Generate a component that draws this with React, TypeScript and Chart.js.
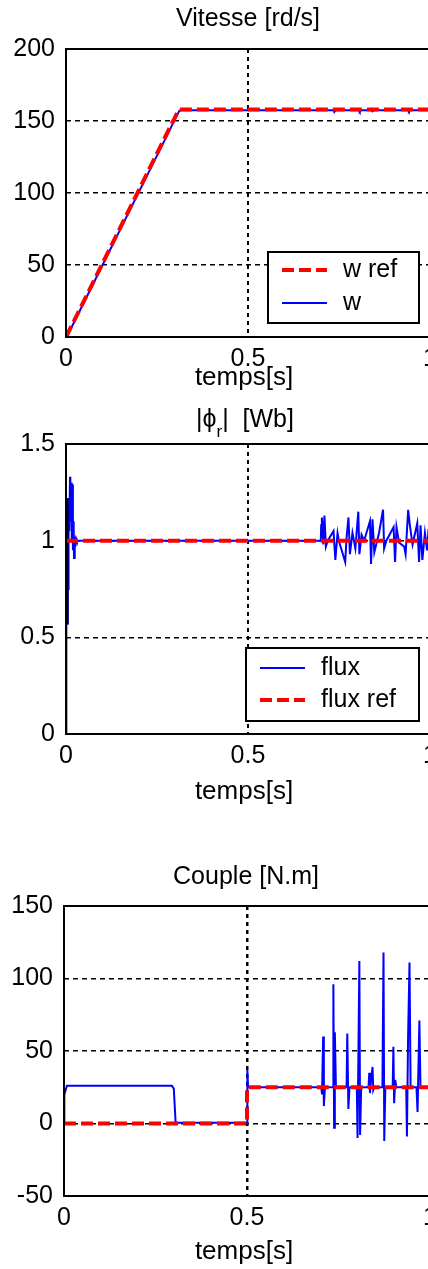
import React, { useEffect, useRef } from "react";
import { Chart, registerables } from "chart.js";

Chart.register(...registerables);

const FONT = '"Liberation Sans", Arial, Helvetica, sans-serif';
const BLUE = "#0000ff";
const RED = "#ff0000";
const CANVAS_W = 460;

// shared x axis
const xTicks = [0, 0.5, 1];
const xLabel = "temps[s]";

// Panel 1 — speed
const speedTicks = [0, 50, 100, 150, 200];
const wRefT = [0, 0.31, 1];
const wRefV = [0, 158, 158];
const wT = [0, 0.003, 0.311, 0.315, 0.735, 0.737, 0.74, 0.805, 0.807, 0.81, 0.84, 0.842, 0.845, 0.94, 0.942, 0.945, 1];
const wV = [0, 0.5, 157, 157.4, 157.4, 156.3, 157.4, 157.4, 156.5, 157.4, 157.4, 156.7, 157.4, 157.4, 156.6, 157.4, 157.4];

// Panel 2 — flux
const fluxTicks = [0, 0.5, 1, 1.5];
const fluxRefT = [0, 1];
const fluxRefV = [1, 1];
const fluxInitT = [0.0025, 0.0025];
const fluxInitV = [0.57, 1.22];
const fluxT = [
  0, 0.001, 0.003, 0.005, 0.006, 0.007, 0.009, 0.011, 0.012, 0.014, 0.016, 0.018, 0.019, 0.021, 0.022, 0.024, 0.026, 0.028, 0.03,
  0.7, 0.701, 0.703, 0.707, 0.71, 0.714, 0.719, 0.735, 0.74, 0.746, 0.751, 0.767, 0.771, 0.776, 0.78, 0.787, 0.795,
  0.803, 0.806, 0.812, 0.819, 0.835, 0.838, 0.842, 0.847, 0.86, 0.871, 0.874, 0.88, 0.9, 0.904, 0.908, 0.915,
  0.929, 0.933, 0.94, 0.944, 0.952, 0.965, 0.97, 0.974, 0.979, 0.986, 0.992, 0.996, 1,
];
const fluxV = [
  0, 0.57, 0.57, 1.22, 0.75, 1.22, 1.05, 1.33, 1.1, 1.3, 1.0, 1.29, 0.95, 1.1, 0.91, 1.02, 0.97, 1.01, 1.0,
  1.0, 1.08, 1.12, 0.98, 1.13, 0.97, 1.0, 1.05, 0.9, 1.04, 0.99, 0.89, 1.02, 1.12, 0.93, 1.04, 0.96,
  1.15, 0.93, 1.03, 1.0, 1.1, 0.88, 1.11, 0.94, 1.04, 1.16, 0.96, 1.0, 1.07, 0.89, 1.07, 0.99,
  0.97, 0.93, 1.16, 1.09, 0.98, 1.09, 0.89, 1.08, 0.9, 1.04, 0.95, 1.06, 1.0,
];

// Panel 3 — torque
const torqueTicks = [-50, 0, 50, 100, 150];
const torqueRefT = [0, 0.5, 0.5, 1];
const torqueRefV = [0, 0, 25, 25];
const torqueT = [
  0, 0.001, 0.008, 0.295, 0.3, 0.305, 0.5, 0.501, 0.503,
  0.703, 0.705, 0.708, 0.71, 0.713, 0.735, 0.736, 0.738, 0.74, 0.743,
  0.772, 0.774, 0.777, 0.78, 0.8, 0.802, 0.807, 0.809, 0.812,
  0.832, 0.834, 0.836, 0.839, 0.843, 0.845, 0.848, 0.87, 0.873, 0.875, 0.878,
  0.898, 0.9, 0.902, 0.905, 0.908, 0.935, 0.937, 0.94, 0.944, 0.947,
  0.963, 0.966, 0.971, 0.974, 1,
];
const torqueV = [
  0, 20, 26, 26, 24, 0.5, 0.5, 37, 25,
  25, 20, 60, 12, 25, 25, 96, -3, 63, 25,
  25, 62, 10, 25, 25, -10, 112, -8, 25,
  25, 35, 21, 30, 39, 23, 25, 25, 118, -12, 25,
  25, 53, 14, 30, 25, 25, -9, 58, 111, 25,
  25, 8, 71, 25, 25,
];

const pts = (t: number[], v: number[]) => t.map((x, i) => ({ x, y: v[i] }));

type LegendCfg = { x: number; y: number; w: number; h: number; rows: { ds: number; y: number }[]; sx0: number; sx1: number; tx: number };
type PanelCfg = {
  key: string;
  top: number;
  height: number;
  area: { top: number; bottom: number; left: number; right: number };
  yTicks: number[];
  datasets: any[];
  title: { text: string; sub?: string; after?: string; y: number; x: number };
  xLabelY: number;
  legend?: LegendCfg;
  vGridWidth: number;
};

const panels: PanelCfg[] = [
  {
    key: "speed",
    top: 0,
    height: 400,
    area: { top: 49, bottom: 337, left: 66, right: 430 },
    yTicks: speedTicks,
    datasets: [
      { label: "w ref", data: pts(wRefT, wRefV), borderColor: RED, borderWidth: 4, borderDash: [12, 5], order: 0 },
      { label: "w", data: pts(wT, wV), borderColor: BLUE, borderWidth: 2, borderDash: [], order: 1 },
    ],
    title: { text: "Vitesse [rd/s]", y: 19, x: 248 },
    xLabelY: 378,
    legend: { x: 268, y: 252, w: 151, h: 71, rows: [{ ds: 0, y: 270 }, { ds: 1, y: 303 }], sx0: 282, sx1: 327, tx: 343 },
    vGridWidth: 2,
  },
  {
    key: "flux",
    top: 400,
    height: 420,
    area: { top: 44, bottom: 334, left: 66, right: 430 },
    yTicks: fluxTicks,
    datasets: [
      { label: "flux", data: pts(fluxT, fluxV), borderColor: BLUE, borderWidth: 2, borderDash: [], order: 1 },
      { label: "flux ref", data: pts(fluxRefT, fluxRefV), borderColor: RED, borderWidth: 4, borderDash: [12, 5], order: 0 },
      { label: "", data: pts(fluxInitT, fluxInitV), borderColor: "#000", borderWidth: 3, borderDash: [], order: 0.5 },
    ],
    title: { text: "|ϕ", sub: "r", after: "|  [Wb]", y: 20, x: 245 },
    xLabelY: 392,
    legend: { x: 246, y: 248, w: 173, h: 73, rows: [{ ds: 0, y: 268 }, { ds: 1, y: 300 }], sx0: 260, sx1: 305, tx: 321 },
    vGridWidth: 2,
  },
  {
    key: "torque",
    top: 820,
    height: 449,
    area: { top: 86, bottom: 376, left: 64, right: 430 },
    yTicks: torqueTicks,
    datasets: [
      { label: "couple", data: pts(torqueT, torqueV), borderColor: BLUE, borderWidth: 2, borderDash: [], order: 1 },
      { label: "couple ref", data: pts(torqueRefT, torqueRefV), borderColor: RED, borderWidth: 4, borderDash: [12, 5], order: 0 },
    ],
    title: { text: "Couple [N.m]", y: 57, x: 246 },
    xLabelY: 432,
    vGridWidth: 2.5,
  },
];

function makeDecor(cfg: PanelCfg) {
  return {
    id: "decor_" + cfg.key,
    afterDatasetsDraw(chart: any) {
      const ctx: CanvasRenderingContext2D = chart.ctx;
      const a = chart.chartArea;
      ctx.save();
      // legend
      if (cfg.legend) {
        const L = cfg.legend;
        ctx.fillStyle = "#fff";
        ctx.fillRect(L.x, L.y, L.w, L.h);
        ctx.strokeStyle = "#000";
        ctx.lineWidth = 2;
        ctx.setLineDash([]);
        ctx.strokeRect(L.x, L.y, L.w, L.h);
        for (const r of L.rows) {
          const ds = chart.data.datasets[r.ds];
          ctx.strokeStyle = ds.borderColor;
          ctx.lineWidth = ds.borderWidth;
          ctx.setLineDash(ds.borderDash || []);
          ctx.beginPath();
          ctx.moveTo(L.sx0, r.y);
          ctx.lineTo(L.sx1, r.y);
          ctx.stroke();
          ctx.setLineDash([]);
          ctx.fillStyle = "#000";
          ctx.font = `25px ${FONT}`;
          ctx.textAlign = "left";
          ctx.textBaseline = "middle";
          ctx.fillText(ds.label, L.tx, r.y);
        }
      }
      // frame
      ctx.setLineDash([]);
      ctx.strokeStyle = "#000";
      ctx.lineWidth = 2;
      ctx.strokeRect(a.left, a.top, a.right - a.left, a.bottom - a.top);
      ctx.restore();
    },
    afterDraw(chart: any) {
      const ctx: CanvasRenderingContext2D = chart.ctx;
      ctx.save();
      ctx.fillStyle = "#000";
      ctx.textBaseline = "middle";
      const T = cfg.title;
      const main = `25px ${FONT}`;
      const small = `17px ${FONT}`;
      ctx.font = main;
      const w1 = ctx.measureText(T.text).width;
      const w3 = T.after ? ctx.measureText(T.after).width : 0;
      ctx.font = small;
      const w2 = T.sub ? ctx.measureText(T.sub).width : 0;
      let x = T.x - (w1 + w2 + w3) / 2;
      ctx.textAlign = "left";
      ctx.font = main;
      ctx.fillText(T.text, x, T.y);
      x += w1;
      if (T.sub) {
        ctx.font = small;
        ctx.fillText(T.sub, x, T.y + 12);
        x += w2;
      }
      if (T.after) {
        ctx.font = main;
        ctx.fillText(T.after, x, T.y);
      }
      ctx.font = `26px ${FONT}`;
      ctx.textAlign = "center";
      ctx.fillText(xLabel, 244, cfg.xLabelY);
      ctx.restore();
    },
  };
}

function Panel({ cfg }: { cfg: PanelCfg }) {
  const ref = useRef<HTMLCanvasElement>(null);
  useEffect(() => {
    const a = cfg.area;
    const yMin = cfg.yTicks[0];
    const yMax = cfg.yTicks[cfg.yTicks.length - 1];
    const tickFont = { family: FONT, size: 25 };
    const chart = new Chart(ref.current as HTMLCanvasElement, {
      type: "line",
      data: {
        datasets: cfg.datasets.map((d) => ({
          ...d,
          fill: false,
          pointRadius: 0,
          tension: 0,
          borderCapStyle: "butt",
          borderJoinStyle: "miter",
        })),
      },
      options: {
        responsive: false,
        animation: false,
        devicePixelRatio: 1,
        events: [],
        layout: { padding: { top: a.top, right: CANVAS_W - a.right, left: 0, bottom: 0 } },
        plugins: { legend: { display: false }, title: { display: false }, tooltip: { enabled: false } },
        scales: {
          x: {
            type: "linear",
            min: xTicks[0],
            max: xTicks[xTicks.length - 1],
            afterBuildTicks: (s: any) => {
              s.ticks = xTicks.map((v) => ({ value: v }));
            },
            afterFit: (s: any) => {
              s.height = cfg.height - a.bottom;
            },
            ticks: {
              callback: (v: any) => String(v),
              font: tickFont,
              color: "#000",
              padding: 7,
              maxRotation: 0,
              autoSkip: false,
            },
            grid: {
              drawTicks: false,
              color: (c: any) => (c.tick && c.tick.value > xTicks[0] && c.tick.value < xTicks[xTicks.length - 1] ? "#000" : "rgba(0,0,0,0)"),
              lineWidth: cfg.vGridWidth,
            },
            border: { display: false, dash: [4, 4] },
          },
          y: {
            type: "linear",
            min: yMin,
            max: yMax,
            afterBuildTicks: (s: any) => {
              s.ticks = cfg.yTicks.map((v) => ({ value: v }));
            },
            afterFit: (s: any) => {
              s.width = a.left;
            },
            ticks: {
              callback: (v: any) => String(v),
              font: tickFont,
              color: "#000",
              padding: 11,
              autoSkip: false,
            },
            grid: {
              drawTicks: false,
              color: (c: any) => (c.tick && c.tick.value > yMin && c.tick.value < yMax ? "#000" : "rgba(0,0,0,0)"),
              lineWidth: 1.5,
            },
            border: { display: false, dash: [5, 4] },
          },
        },
      } as any,
      plugins: [makeDecor(cfg)],
    });
    return () => chart.destroy();
  }, [cfg]);
  return (
    <canvas
      ref={ref}
      width={CANVAS_W}
      height={cfg.height}
      style={{ position: "absolute", left: 0, top: cfg.top, width: CANVAS_W, height: cfg.height, display: "block" }}
    />
  );
}

export default function App() {
  return (
    <div
      style={{
        position: "absolute",
        left: 0,
        top: 0,
        width: 428,
        height: 1269,
        overflow: "hidden",
        background: "#fff",
      }}
    >
      {panels.map((p) => (
        <Panel key={p.key} cfg={p} />
      ))}
    </div>
  );
}
